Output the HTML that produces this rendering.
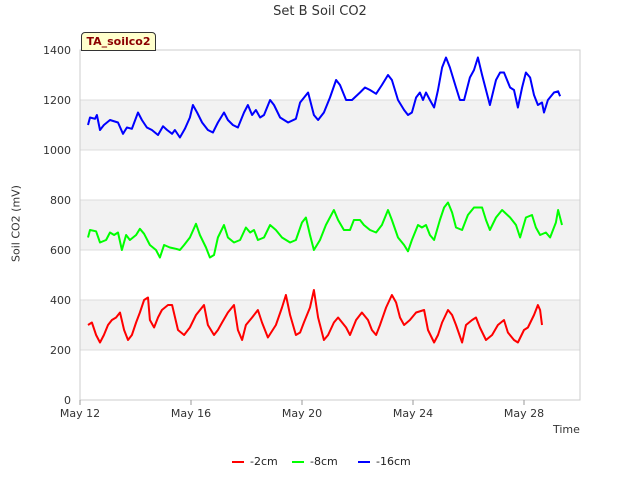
<!DOCTYPE html>
<html><head><meta charset="utf-8"><style>
body{margin:0;background:#fff;font-family:"Liberation Sans","DejaVu Sans",sans-serif}
svg text{font-family:"DejaVu Sans","Liberation Sans",sans-serif}
</style></head><body>
<svg id="c" width="640" height="480" xmlns="http://www.w3.org/2000/svg"></svg>
<script>
const yTicks=[0,200,400,600,800,1000,1200,1400];
const xTickDays=[0,4,8,12,16];
const xTickLabels=["May 12","May 16","May 20","May 24","May 28"];
const seriesNames=["-2cm","-8cm","-16cm"];
const seriesColors=["#ff0000","#00ff00","#0000ff"];
const redT=[.29,.43,.58,.72,.86,1.01,1.15,1.30,1.44,1.59,1.73,1.87,2.02,2.16,2.31,2.45,2.52,2.67,2.81,2.95,3.17,3.32,3.53,3.75,3.96,4.18,4.47,4.61,4.83,4.97,5.12,5.33,5.55,5.69,5.84,5.98,6.20,6.41,6.56,6.77,7.06,7.28,7.42,7.57,7.78,7.93,8.07,8.29,8.43,8.58,8.79,8.94,9.15,9.30,9.59,9.73,9.95,10.16,10.38,10.52,10.67,10.81,11.03,11.24,11.39,11.53,11.68,11.89,12.11,12.40,12.54,12.76,12.90,13.05,13.26,13.41,13.55,13.77,13.91,14.13,14.27,14.41,14.63,14.85,15.06,15.28,15.42,15.64,15.78,16.00,16.14,16.36,16.50,16.58,16.65];
const redV=[300,310,260,230,260,300,320,330,350,280,240,260,310,350,400,410,320,290,330,360,380,380,280,260,290,340,380,300,260,280,310,350,380,280,240,300,330,360,310,250,300,370,420,340,260,270,310,370,440,330,240,260,310,330,290,260,320,350,320,280,260,300,370,420,390,330,300,320,350,360,280,230,260,310,360,340,300,230,300,320,330,290,240,260,300,320,270,240,230,280,290,340,380,360,300];
const greenT=[.29,.36,.58,.72,.94,1.08,1.23,1.37,1.51,1.66,1.80,2.02,2.16,2.31,2.52,2.74,2.88,3.03,3.24,3.46,3.60,3.75,3.96,4.18,4.32,4.54,4.68,4.83,4.97,5.19,5.33,5.55,5.77,5.98,6.13,6.27,6.41,6.63,6.85,7.06,7.28,7.57,7.78,8.00,8.14,8.29,8.43,8.65,8.86,9.15,9.30,9.51,9.73,9.87,10.09,10.23,10.45,10.67,10.88,11.10,11.24,11.46,11.68,11.82,11.96,12.18,12.32,12.47,12.61,12.76,12.97,13.12,13.26,13.41,13.55,13.77,13.98,14.20,14.49,14.63,14.77,14.99,15.21,15.50,15.71,15.86,16.07,16.29,16.43,16.58,16.79,16.94,17.15,17.23,17.37];
const greenV=[650,680,675,630,640,670,660,670,600,660,640,660,685,665,620,600,570,620,610,605,600,620,650,705,660,610,570,580,650,700,650,630,640,690,670,680,640,650,700,680,650,630,640,710,730,660,600,640,700,760,720,680,680,720,720,700,680,670,700,760,720,650,620,595,640,700,690,700,660,640,720,770,790,750,690,680,740,770,770,720,680,730,760,730,700,650,730,740,690,660,670,650,710,760,700];
const blueT=[.29,.36,.54,.61,.72,.86,1.08,1.37,1.55,1.69,1.87,2.09,2.23,2.41,2.59,2.81,2.99,3.14,3.32,3.42,3.60,3.78,3.96,4.07,4.22,4.40,4.61,4.79,4.97,5.19,5.33,5.51,5.69,5.91,6.05,6.20,6.34,6.49,6.63,6.85,6.99,7.21,7.50,7.78,7.93,8.22,8.43,8.58,8.79,9.01,9.23,9.37,9.59,9.80,10.09,10.27,10.45,10.67,10.88,11.10,11.24,11.46,11.68,11.82,11.96,12.11,12.25,12.36,12.47,12.61,12.76,12.90,13.05,13.19,13.33,13.55,13.69,13.84,14.05,14.20,14.34,14.49,14.63,14.77,14.99,15.14,15.28,15.50,15.64,15.78,15.93,16.07,16.22,16.36,16.50,16.65,16.72,16.86,17.08,17.23,17.30];
const blueV=[1100,1130,1125,1140,1080,1100,1120,1110,1065,1090,1085,1150,1120,1090,1080,1060,1095,1080,1065,1080,1050,1085,1130,1180,1150,1110,1080,1070,1110,1150,1120,1100,1090,1150,1180,1140,1160,1130,1140,1200,1180,1130,1110,1125,1190,1230,1140,1120,1150,1210,1280,1260,1200,1200,1230,1250,1240,1225,1260,1300,1280,1200,1160,1140,1150,1210,1230,1200,1230,1200,1170,1240,1330,1370,1330,1250,1200,1200,1290,1320,1370,1300,1240,1180,1280,1310,1310,1250,1240,1170,1250,1310,1290,1220,1180,1190,1150,1200,1230,1235,1215];

const NS="http://www.w3.org/2000/svg";
const svg=document.getElementById('c');
const L=80,R=580,T=50,B=400;
const X=d=>L+d*27.75;
const Y=v=>B-(v/1400)*(B-T);
function mk(tag,attrs,parent){const e=document.createElementNS(NS,tag);for(const k in attrs)e.setAttribute(k,attrs[k]);(parent||svg).appendChild(e);return e;}

// bands
for(let i=0;i<yTicks.length-1;i+=2){
  const b=mk('rect',{x:L,y:Y(yTicks[i+2]||1400),width:R-L,height:Y(yTicks[i+1])-Y(yTicks[i+2]),fill:'#f2f2f2'});
  
  
}
yTicks.forEach(v=>{
  const g=mk('line',{x1:L,x2:R,y1:Y(v),y2:Y(v),stroke:'#dcdcdc','stroke-width':1});
  
  
  const t=mk('text',{x:L-9,y:Y(v)+4,'text-anchor':'end','font-size':11,fill:'#333'});
  t.textContent=v;
  
  
});
const fr=mk('rect',{x:L,y:T,width:R-L,height:B-T,fill:'none',stroke:'#cccccc'});


xTickDays.forEach((d,i)=>{
  const tk=mk('line',{x1:X(d),x2:X(d),y1:B,y2:B+5,stroke:'#999'});
  
  
  const t=mk('text',{x:X(d),y:B+17,'text-anchor':'middle','font-size':11,fill:'#333'});
  t.textContent=xTickLabels[i];
  
  
});
const seriesT=[redT,greenT,blueT],seriesV=[redV,greenV,blueV];
seriesNames.forEach((n,i)=>{
  const pts=seriesT[i].map((d,j)=>X(d).toFixed(1)+','+Y(seriesV[i][j]).toFixed(1)).join(' ');
  const p=mk('polyline',{points:pts,fill:'none',stroke:seriesColors[i],'stroke-width':2,'stroke-linejoin':'round'});
  
  
});
// legend
const lx=[232,292,358];
seriesNames.forEach((n,i)=>{
  const l=mk('line',{x1:lx[i],x2:lx[i]+12,y1:462,y2:462,stroke:seriesColors[i],'stroke-width':2});
  
  
  const t=mk('text',{x:lx[i]+18,y:465,'font-size':11,fill:'#222'});
  t.textContent=n;
  
  
});
</script>
<div style="position:absolute;left:0;top:0;width:640px;height:480px;pointer-events:none">
<div style="position:absolute;top:4px;width:640px;text-align:center;font:13px 'DejaVu Sans',sans-serif;color:#333">Set B Soil CO2</div>
<div style="position:absolute;left:-34px;top:217px;width:100px;text-align:center;transform:rotate(-90deg);font:11px 'DejaVu Sans',sans-serif;color:#333">Soil CO2 (mV)</div>
<div style="position:absolute;left:553px;top:423px;font:11px 'DejaVu Sans',sans-serif;color:#333">Time</div>
<div style="position:absolute;left:81px;top:32px;width:73px;height:17px;background:#ffffcc;border:1px solid #333;border-radius:4px 4px 0 0;font:bold 11px 'DejaVu Sans',sans-serif;color:#8b0000;text-align:center;line-height:17px">TA_soilco2</div>
</div>
</body></html>
